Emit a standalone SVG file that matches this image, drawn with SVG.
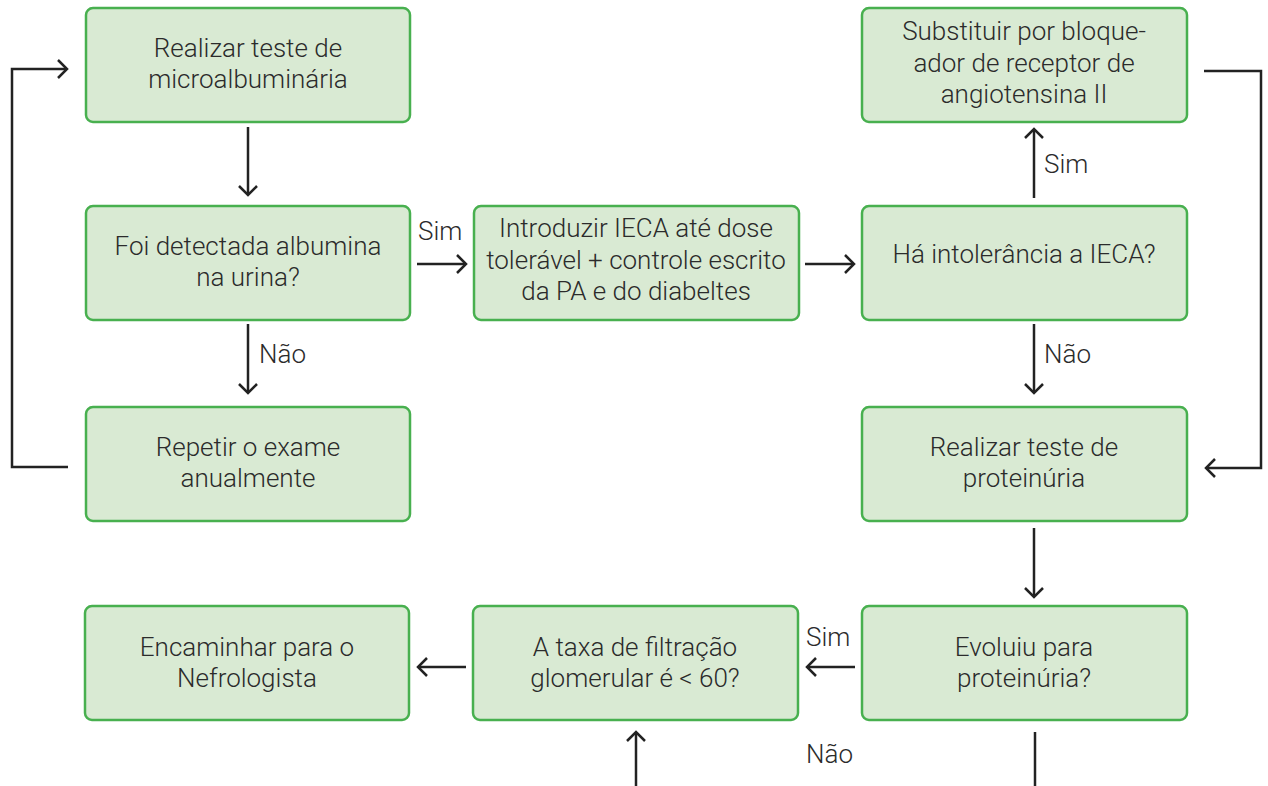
<svg xmlns="http://www.w3.org/2000/svg" width="1268" height="786" viewBox="0 0 1268 786">
<style>
.box{fill:#d9ead3;stroke:#48b04f;stroke-width:2.5}
.t{font-family:Roboto,"Liberation Sans",sans-serif;font-weight:300;font-size:26px;fill:#2b2b2b;text-anchor:middle}
.l{font-family:Roboto,"Liberation Sans",sans-serif;font-weight:300;font-size:26px;fill:#2b2b2b}
.c{fill:none;stroke:#222;stroke-width:2.5}
</style>
<defs>
<marker id="ah" markerUnits="userSpaceOnUse" markerWidth="24" markerHeight="24" viewBox="-12 -12 24 24" refX="0" refY="0" orient="auto">
<path d="M-9,-9 L0,0 L-9,9" fill="none" stroke="#222" stroke-width="2.5"/>
</marker>
</defs>
<rect width="1268" height="786" fill="#fff"/>
<g id="n1"><rect class="box" x="86" y="8" width="324" height="114" rx="7"/><text class="t"><tspan x="248" y="57">Realizar teste de</tspan><tspan x="248" y="88">microalbuminária</tspan></text></g>
<g id="n2"><rect class="box" x="86" y="206" width="324" height="114" rx="7"/><text class="t"><tspan x="248" y="255">Foi detectada albumina</tspan><tspan x="248" y="286">na urina?</tspan></text></g>
<g id="n3"><rect class="box" x="86" y="407" width="324" height="114" rx="7"/><text class="t"><tspan x="248" y="456">Repetir o exame</tspan><tspan x="248" y="487">anualmente</tspan></text></g>
<g id="n4"><rect class="box" x="474" y="206" width="325" height="114" rx="7"/><text class="t"><tspan x="636" y="237">Introduzir IECA até dose</tspan><tspan x="636" y="269">tolerável + controle escrito</tspan><tspan x="636" y="300">da PA e do diabeltes</tspan></text></g>
<g id="n5"><rect class="box" x="862" y="206" width="325" height="114" rx="7"/><text class="t"><tspan x="1024" y="263">Há intolerância a IECA?</tspan></text></g>
<g id="n6"><rect class="box" x="862" y="8" width="325" height="114" rx="7"/><text class="t"><tspan x="1024" y="40">Substituir por bloque-</tspan><tspan x="1024" y="72">ador de receptor de</tspan><tspan x="1024" y="103">angiotensina II</tspan></text></g>
<g id="n7"><rect class="box" x="862" y="407" width="325" height="114" rx="7"/><text class="t"><tspan x="1024" y="456">Realizar teste de</tspan><tspan x="1024" y="487">proteinúria</tspan></text></g>
<g id="n8"><rect class="box" x="862" y="606" width="325" height="114" rx="7"/><text class="t"><tspan x="1024" y="656">Evoluiu para</tspan><tspan x="1024" y="687">proteinúria?</tspan></text></g>
<g id="n9"><rect class="box" x="473" y="606" width="325" height="114" rx="7"/><text class="t"><tspan x="635" y="656">A taxa de filtração</tspan><tspan x="635" y="687">glomerular é &lt; 60?</tspan></text></g>
<g id="n10"><rect class="box" x="85" y="606" width="324" height="114" rx="7"/><text class="t"><tspan x="247" y="656">Encaminhar para o</tspan><tspan x="247" y="687">Nefrologista</tspan></text></g>
<g id="connectors">
<path class="c" d="M248,127 V195" marker-end="url(#ah)"/>
<path class="c" d="M248,324 V393" marker-end="url(#ah)"/>
<path class="c" d="M68,467 H12 V69 H67" marker-end="url(#ah)"/>
<path class="c" d="M417,264 H466" marker-end="url(#ah)"/>
<path class="c" d="M805,264 H854" marker-end="url(#ah)"/>
<path class="c" d="M1034,198 V129" marker-end="url(#ah)"/>
<path class="c" d="M1034,324 V393" marker-end="url(#ah)"/>
<path class="c" d="M1204,71 H1261 V468 H1206" marker-end="url(#ah)"/>
<path class="c" d="M1034,528 V597" marker-end="url(#ah)"/>
<path class="c" d="M855,667 H807" marker-end="url(#ah)"/>
<path class="c" d="M466,667 H418" marker-end="url(#ah)"/>
<path class="c" d="M1035,732 V786"/>
<path class="c" d="M636,786 V732" marker-end="url(#ah)"/>
<text class="l" x="418" y="240">Sim</text>
<text class="l" x="259" y="363">Não</text>
<text class="l" x="1044" y="173">Sim</text>
<text class="l" x="1044" y="363">Não</text>
<text class="l" x="806" y="646">Sim</text>
<text class="l" x="806" y="763">Não</text>
</g>
</svg>
